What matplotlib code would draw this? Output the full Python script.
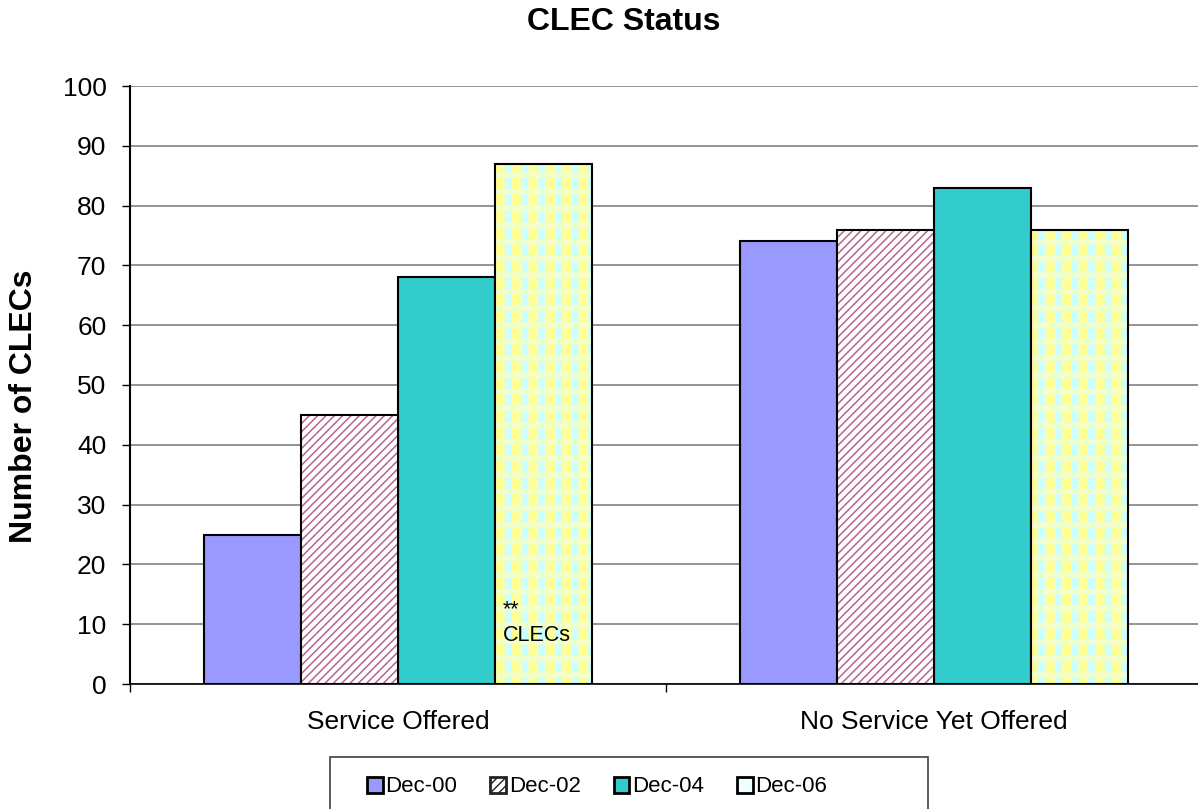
import matplotlib.pyplot as plt
from matplotlib.patches import Patch, Rectangle
import numpy as np

plt.rcParams['font.family'] = ['Liberation Sans', 'DejaVu Sans']

# data
categories = ['Service Offered', 'No Service Yet Offered']
periods = ['Dec-00', 'Dec-02', 'Dec-04', 'Dec-06']
dec00 = [25, 74]
dec02 = [45, 76]
dec04 = [68, 83]
dec06 = [87, 76]
note_text = '**\nCLECs'

fig = plt.figure(figsize=(11.98, 8.09), dpi=100)
ax = fig.add_axes([130 / 1198, 125 / 809, 1072 / 1198, 598 / 809])

x = np.arange(len(categories))
w = 0.181
offs = np.array([-1.5, -0.5, 0.5, 1.5]) * w
edge = dict(edgecolor='black', linewidth=1.5)

# Dec-00 and Dec-04: plain fills
ax.bar(x + offs[0], dec00, w, color='#9999FF', zorder=3, **edge)
ax.bar(x + offs[2], dec04, w, color='#33CCCC', zorder=3, **edge)

# Dec-02: pink diagonal stripes on white
plt.rcParams['hatch.linewidth'] = 1.1
ax.bar(x + offs[1], dec02, w, color='white', hatch='////',
       edgecolor='#B5668F', linewidth=0, zorder=3)
ax.bar(x + offs[1], dec02, w, fill=False, zorder=4, **edge)

# Dec-06: yellow with cyan check
plt.rcParams['hatch.linewidth'] = 5
ax.bar(x + offs[3], dec06, w, color='#FFFF99', hatch='|',
       edgecolor='#CCFFFF', linewidth=0, zorder=3)
plt.rcParams['hatch.linewidth'] = 3.5
ax.bar(x + offs[3], dec06, w, color='none', hatch='-',
       edgecolor='#F2FFCC', linewidth=0, zorder=3)
ax.bar(x + offs[3], dec06, w, fill=False, zorder=4, **edge)

ax.text(x[0] + offs[3] - w / 2 + 0.015, 10.2, note_text, fontsize=15.5,
        ha='left', va='center', linespacing=1.3, zorder=5)

ax.set_xlim(-0.5, 1.5)
ax.set_ylim(0, 100)
ax.set_yticks(range(0, 101, 10))
ax.set_xticks(x)
ax.set_xticklabels(categories, fontsize=19)
ax.set_xticks([-0.5, 0.5, 1.5], minor=True)
ax.tick_params(axis='x', which='major', length=0, pad=19)
ax.tick_params(axis='x', which='minor', length=6, width=1, direction='out')
ax.tick_params(axis='y', labelsize=19, length=6, width=1, pad=11)

ax.yaxis.grid(True, color='#808080', linewidth=1.2)
ax.set_axisbelow(True)
for s in ['top', 'right']:
    ax.spines[s].set_visible(False)
ax.spines['left'].set_linewidth(1.5)
ax.spines['bottom'].set_linewidth(1.2)

fig.text(24 / 1198, 1 - 406 / 809, 'Number of CLECs', fontsize=23,
         fontweight='bold', rotation=90, ha='center', va='center')
fig.text(624 / 1198, 1 - 22 / 809, 'CLEC Status', fontsize=23,
         fontweight='bold', ha='center', va='center')

# legend: frame drawn separately, entries without a frame
fig.patches.append(Rectangle((330 / 1198, -0.01), 598 / 1198, 0.01 + 52 / 809,
                             transform=fig.transFigure, facecolor='white',
                             edgecolor='#404040', linewidth=1.2, zorder=1))
plt.rcParams['hatch.linewidth'] = 1.0
handles = [
    Patch(facecolor='#9999FF', edgecolor='black', linewidth=2),
    Patch(facecolor='white', edgecolor='#222222', linewidth=2, hatch='////'),
    Patch(facecolor='#33CCCC', edgecolor='black', linewidth=2),
    Patch(facecolor='#EEFFFF', edgecolor='black', linewidth=2),
]
leg = fig.legend(handles, periods, loc='center left', ncol=4,
                 bbox_to_anchor=(367 / 1198, 1 - 787 / 809), fontsize=16,
                 frameon=False, handlelength=0.7, handleheight=0.7,
                 handletextpad=0.12, columnspacing=1.5, borderpad=0,
                 borderaxespad=0)
leg.set_zorder(2)

fig.savefig('out.png', dpi=100)
